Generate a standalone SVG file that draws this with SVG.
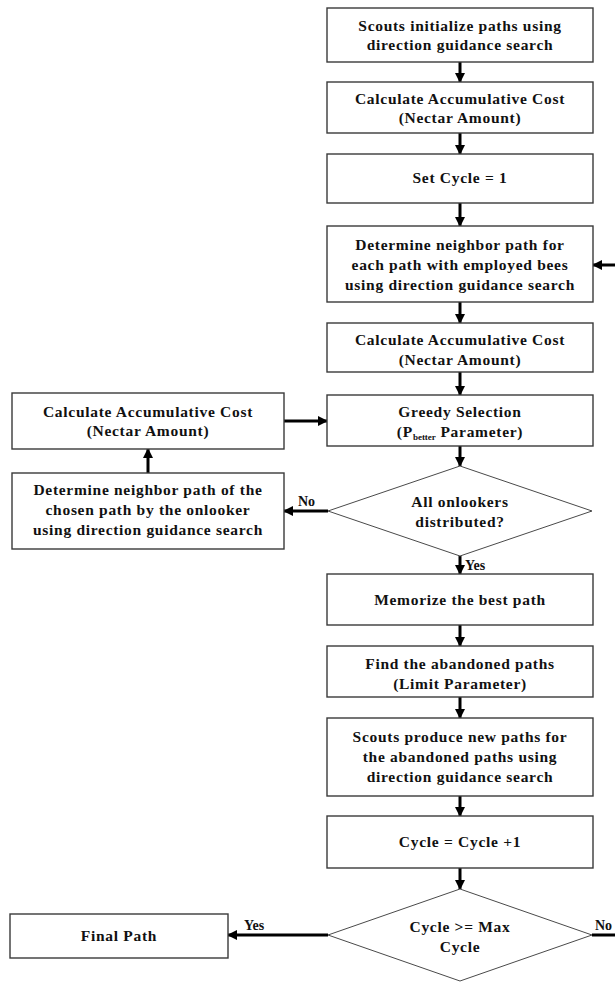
<svg xmlns="http://www.w3.org/2000/svg" width="615" height="982" viewBox="0 0 615 982">
<defs>
<style>
.box{fill:#fff;stroke:#3a3a3a;stroke-width:1.4}
.dia{fill:#fff;stroke:#4a4a4a;stroke-width:1}
.t{font-family:'Liberation Serif','DejaVu Serif',serif;font-size:15.5px;font-weight:bold;fill:#111;text-anchor:middle;letter-spacing:0.7px}
.lbl{font-family:'Liberation Serif','DejaVu Serif',serif;font-size:14px;font-weight:bold;fill:#111}
.sub{font-size:9px;letter-spacing:0}
.arr{stroke:#000;stroke-width:3;fill:none;marker-end:url(#ah)}
.ln{stroke:#000;stroke-width:3;fill:none}
</style>
<marker id="ah" viewBox="0 0 10 10" refX="9" refY="5" markerWidth="3.4" markerHeight="3.4" orient="auto" markerUnits="strokeWidth">
<path d="M0,0 L10,5 L0,10 z" fill="#000"/>
</marker>
</defs>
<rect width="615" height="982" fill="#fff"/>
<g id="connectors">
<line class="arr" x1="460" y1="62" x2="460" y2="82"/>
<line class="arr" x1="460" y1="133" x2="460" y2="154"/>
<line class="arr" x1="460" y1="203" x2="460" y2="226"/>
<line class="arr" x1="460" y1="302" x2="460" y2="323"/>
<line class="arr" x1="460" y1="372" x2="460" y2="395"/>
<line class="arr" x1="460" y1="446" x2="460" y2="466"/>
<line class="arr" x1="460" y1="556" x2="460" y2="574"/>
<line class="arr" x1="460" y1="625" x2="460" y2="646"/>
<line class="arr" x1="460" y1="697" x2="460" y2="718"/>
<line class="arr" x1="460" y1="796" x2="460" y2="816"/>
<line class="arr" x1="460" y1="868" x2="460" y2="889"/>
<line class="arr" x1="615" y1="265" x2="593" y2="265"/>
<line class="arr" x1="284" y1="421" x2="327" y2="421"/>
<line class="arr" x1="148" y1="473" x2="148" y2="449"/>
<line class="arr" x1="328" y1="511" x2="284" y2="511"/>
<line class="arr" x1="328" y1="935" x2="228" y2="935"/>
<line class="ln" x1="592" y1="935" x2="615" y2="935"/>
<text class="lbl" x="298" y="506">No</text>
<text class="lbl" x="465" y="570">Yes</text>
<text class="lbl" x="244" y="930">Yes</text>
<text class="lbl" x="595" y="930">No</text>
</g>
<g id="n1"><rect class="box" x="327" y="8" width="266" height="54"/>
<text class="t" x="460" y="31">Scouts initialize paths using</text>
<text class="t" x="460" y="50">direction guidance search</text></g>
<g id="n2"><rect class="box" x="327" y="82" width="266" height="51"/>
<text class="t" x="460" y="104">Calculate Accumulative Cost</text>
<text class="t" x="460" y="123">(Nectar Amount)</text></g>
<g id="n3"><rect class="box" x="327" y="154" width="266" height="49"/>
<text class="t" x="460" y="183">Set Cycle = 1</text></g>
<g id="n4"><rect class="box" x="327" y="226" width="266" height="76"/>
<text class="t" x="460" y="250">Determine neighbor path for</text>
<text class="t" x="460" y="270">each path with employed bees</text>
<text class="t" x="460" y="290">using direction guidance search</text></g>
<g id="n5"><rect class="box" x="327" y="323" width="266" height="49"/>
<text class="t" x="460" y="345">Calculate Accumulative Cost</text>
<text class="t" x="460" y="365">(Nectar Amount)</text></g>
<g id="n6"><rect class="box" x="327" y="395" width="266" height="51"/>
<text class="t" x="460" y="417">Greedy Selection</text>
<text class="t" x="460" y="437">(P<tspan class="sub" dy="3">better</tspan><tspan dy="-3"> Parameter)</tspan></text></g>
<g id="d1"><polygon class="dia" points="460,466 592,511 460,556 328,511"/>
<text class="t" x="460" y="507">All onlookers</text>
<text class="t" x="460" y="527">distributed?</text></g>
<g id="l1"><rect class="box" x="12" y="393" width="272" height="56"/>
<text class="t" x="148" y="417">Calculate Accumulative Cost</text>
<text class="t" x="148" y="436">(Nectar Amount)</text></g>
<g id="l2"><rect class="box" x="12" y="473" width="272" height="76"/>
<text class="t" x="148" y="495">Determine neighbor path of the</text>
<text class="t" x="148" y="515">chosen path by the onlooker</text>
<text class="t" x="148" y="535">using direction guidance search</text></g>
<g id="n7"><rect class="box" x="327" y="574" width="266" height="51"/>
<text class="t" x="460" y="605">Memorize the best path</text></g>
<g id="n8"><rect class="box" x="327" y="646" width="266" height="51"/>
<text class="t" x="460" y="669">Find the abandoned paths</text>
<text class="t" x="460" y="689">(Limit Parameter)</text></g>
<g id="n9"><rect class="box" x="327" y="718" width="266" height="78"/>
<text class="t" x="460" y="742">Scouts produce new paths for</text>
<text class="t" x="460" y="762">the abandoned paths using</text>
<text class="t" x="460" y="782">direction guidance search</text></g>
<g id="n10"><rect class="box" x="327" y="816" width="266" height="52"/>
<text class="t" x="460" y="847">Cycle = Cycle +1</text></g>
<g id="d2"><polygon class="dia" points="460,889 592,935 460,981 328,935"/>
<text class="t" x="460" y="932">Cycle &gt;= Max</text>
<text class="t" x="460" y="952">Cycle</text></g>
<g id="final"><rect class="box" x="10" y="914" width="218" height="44"/>
<text class="t" x="119" y="941">Final Path</text></g>
</svg>
